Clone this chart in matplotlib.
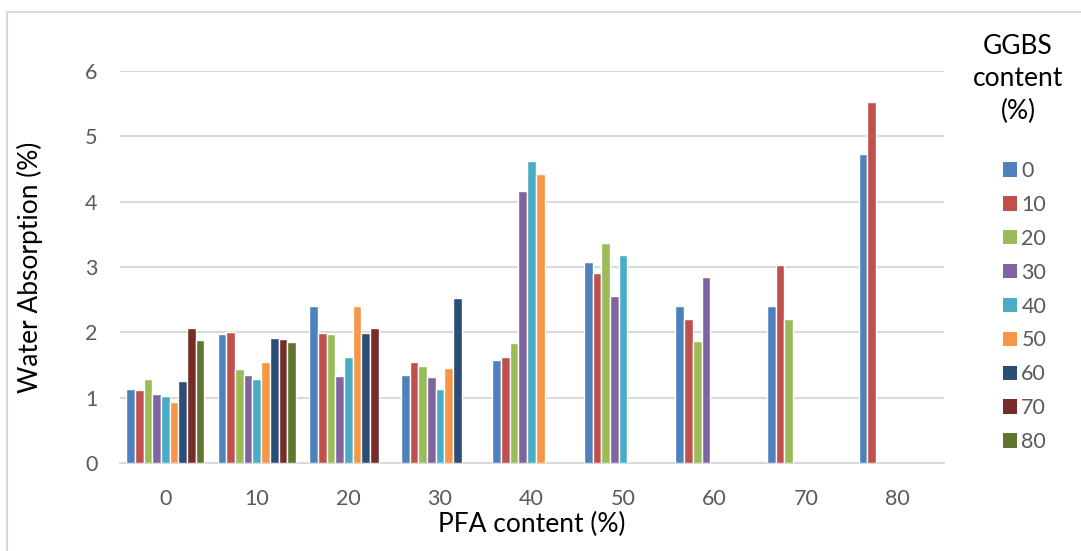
import matplotlib
matplotlib.use("Agg")
import matplotlib.pyplot as plt
import numpy as np
from matplotlib.patches import Patch, Rectangle

plt.rcParams["font.family"] = ["Lato", "DejaVu Sans"]

pfa = ["0", "10", "20", "30", "40", "50", "60", "70", "80"]
ggbs = ["0", "10", "20", "30", "40", "50", "60", "70", "80"]

# water absorption (%) per GGBS series, one value per PFA group (None = no mix)
ggbs_0 = [1.14, 1.98, 2.40, 1.34, 1.58, 3.08, 2.40, 2.40, 4.73]
ggbs_10 = [1.11, 2.01, 1.99, 1.55, 1.63, 2.91, 2.20, 3.03, 5.52]
ggbs_20 = [1.28, 1.44, 1.98, 1.48, 1.83, 3.36, 1.87, 2.21, None]
ggbs_30 = [1.05, 1.35, 1.33, 1.32, 4.16, 2.56, 2.85, None, None]
ggbs_40 = [1.02, 1.29, 1.62, 1.13, 4.62, 3.19, None, None, None]
ggbs_50 = [0.94, 1.54, 2.41, 1.46, 4.42, None, None, None, None]
ggbs_60 = [1.26, 1.92, 1.99, 2.52, None, None, None, None, None]
ggbs_70 = [2.06, 1.90, 2.06, None, None, None, None, None, None]
ggbs_80 = [1.89, 1.85, None, None, None, None, None, None, None]

series = [ggbs_0, ggbs_10, ggbs_20, ggbs_30, ggbs_40, ggbs_50, ggbs_60, ggbs_70, ggbs_80]
colors = ["#4F81BD", "#C0504D", "#9BBB59", "#8064A2", "#4BACC6",
          "#F79646", "#2C4D75", "#772C2A", "#5F7530"]

W, H = 1081, 551
fig = plt.figure(figsize=(W / 100, H / 100), dpi=100)
ax = fig.add_axes([119.5 / W, 1 - 463 / H, 824 / W, 392 / H])

x = np.arange(len(pfa))
bw = 0.095
for i, (vals, c) in enumerate(zip(series, colors)):
    xs = [x[j] + (i - 4) * bw for j, v in enumerate(vals) if v is not None]
    hs = [v for v in vals if v is not None]
    ax.bar(xs, hs, width=bw, color=c, edgecolor="white", linewidth=1.0, zorder=3)

ax.set_xlim(-0.5, len(pfa) - 0.5)
ax.set_ylim(0, 6)
ax.set_xticks(x)
ax.set_xticklabels(pfa)
ax.set_yticks(range(0, 7))
ax.yaxis.grid(True, color="#d9d9d9", linewidth=1.5, zorder=0)
for s in ["top", "right", "left"]:
    ax.spines[s].set_visible(False)
ax.spines["bottom"].set_color("#d9d9d9")
ax.spines["bottom"].set_linewidth(1.5)
ax.tick_params(length=0, labelsize=15.5, labelcolor="#595959")
ax.tick_params(axis="x", pad=19)
ax.tick_params(axis="y", pad=16)

ax.set_xlabel("PFA content (%)", fontsize=19, labelpad=2)
ax.set_ylabel("Water Absorption (%)", fontsize=19, labelpad=30)

fig.text(1018 / W, 1 - 79 / H, "GGBS\ncontent\n(%)", fontsize=19,
         ha="center", va="center", linespacing=1.36, multialignment="center")

handles = [Patch(facecolor=c, edgecolor="none") for c in colors]
fig.legend(handles, ggbs, loc="upper left", bbox_to_anchor=(1003 / W, 1 - 161 / H),
           frameon=False, fontsize=15.5, labelcolor="#595959",
           borderaxespad=0, borderpad=0,
           handlelength=0.65, handleheight=0.65, handletextpad=0.2,
           labelspacing=0.645)

fig.patches.append(Rectangle((6.5 / W, -0.1), 2, 1 - 11.5 / H + 0.1,
                             transform=fig.transFigure, fill=False,
                             edgecolor="#d9d9d9", linewidth=1.5))

fig.savefig("out.png", dpi=100)
